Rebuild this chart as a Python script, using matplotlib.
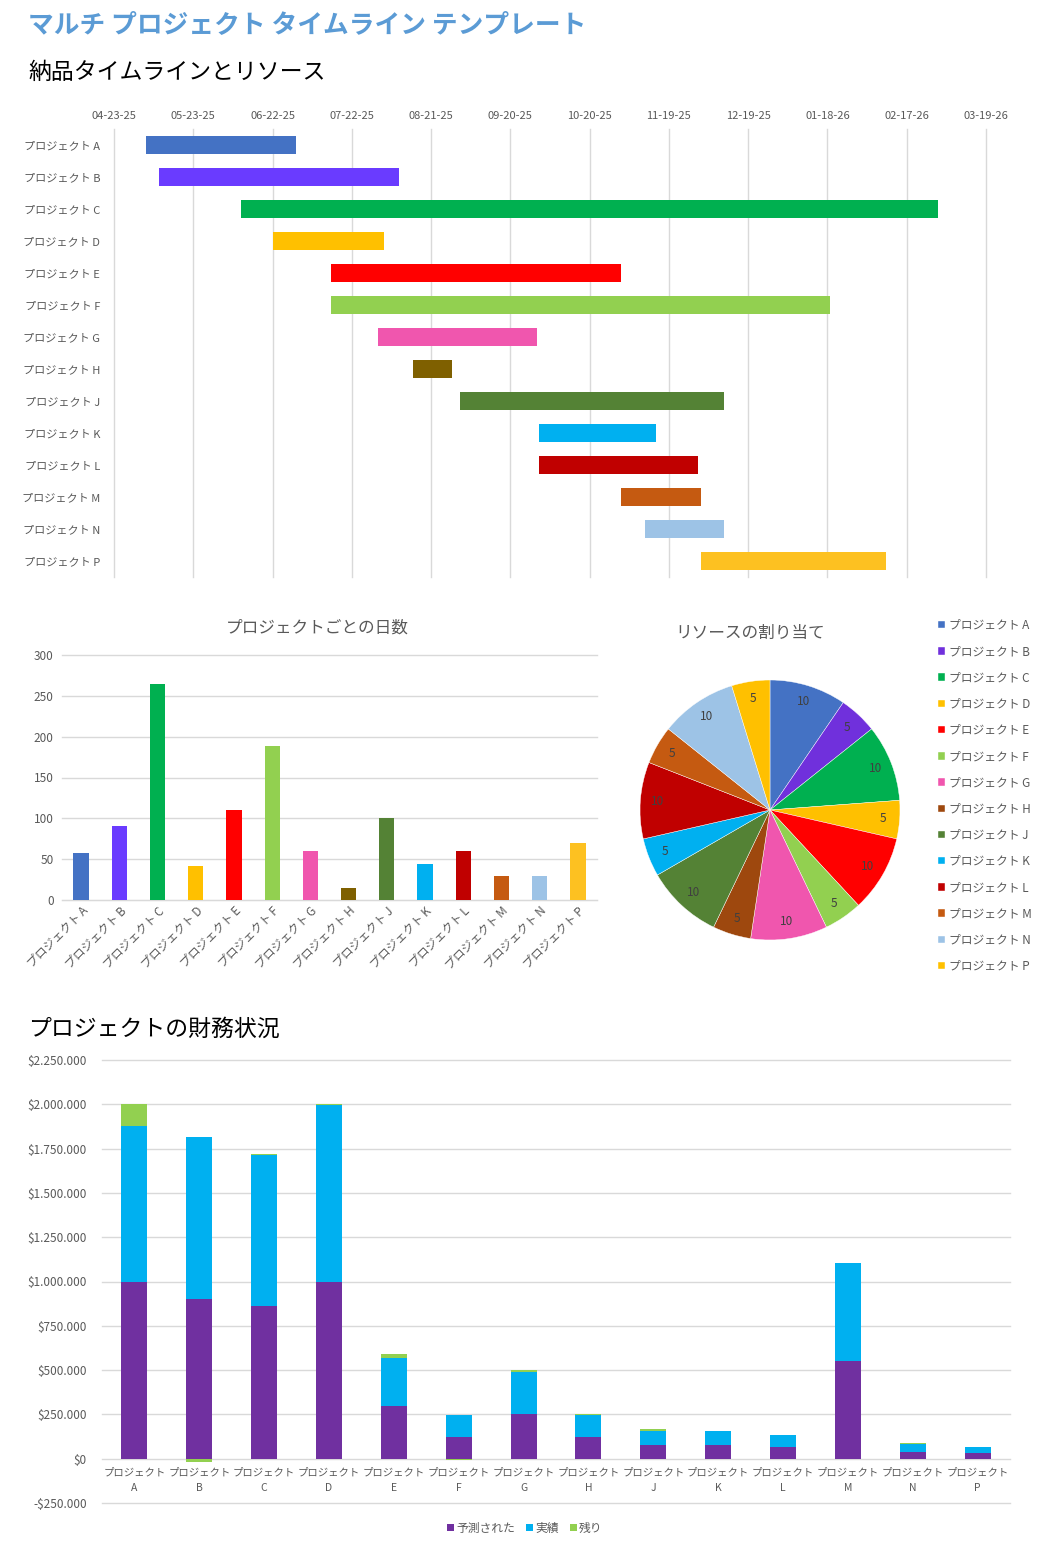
import matplotlib
matplotlib.use('Agg')
import matplotlib.pyplot as plt
import matplotlib.dates as mdates
import matplotlib.ticker as mticker
import datetime as dt

plt.rcParams['font.family'] = ['Noto Sans CJK JP', 'DejaVu Sans']

W, H = 1050, 1550

# ---------------- data ----------------
projects = ['プロジェクト A', 'プロジェクト B', 'プロジェクト C', 'プロジェクト D', 'プロジェクト E',
            'プロジェクト F', 'プロジェクト G', 'プロジェクト H', 'プロジェクト J', 'プロジェクト K',
            'プロジェクト L', 'プロジェクト M', 'プロジェクト N', 'プロジェクト P']
fin_labels = ['プロジェクト\nA', 'プロジェクト\nB', 'プロジェクト\nC', 'プロジェクト\nD', 'プロジェクト\nE',
              'プロジェクト\nF', 'プロジェクト\nG', 'プロジェクト\nH', 'プロジェクト\nJ', 'プロジェクト\nK',
              'プロジェクト\nL', 'プロジェクト\nM', 'プロジェクト\nN', 'プロジェクト\nP']
start_dates = ['2025-05-05', '2025-05-10', '2025-06-10', '2025-06-22', '2025-07-14',
               '2025-07-14', '2025-08-01', '2025-08-14', '2025-09-01', '2025-10-01',
               '2025-10-01', '2025-11-01', '2025-11-10', '2025-12-01']
durations = [57, 91, 264, 42, 110, 189, 60, 15, 100, 44, 60, 30, 30, 70]
resources = [10, 5, 10, 5, 10, 5, 10, 5, 10, 5, 10, 5, 10, 5]
forecast = [1000000, 900000, 860000, 1000000, 295000, 120000, 250000, 125000,
            80000, 75000, 65000, 550000, 40000, 30000]
actual = [880000, 918000, 854000, 995000, 275000, 128000, 242000, 120000,
          79000, 79000, 67000, 553000, 45000, 34000]
remaining = [120000, -18000, 6000, 5000, 20000, -8000, 8000, 5000,
             6000, 0, 0, -3000, 5000, -4000]
fin_series = ['予測された', '実績', '残り']

axis_start = '2025-04-23'
axis_end = '2026-03-19'
tick_step_days = 30

bar_colors = ['#4472C4', '#6A3BFF', '#00B050', '#FFC000', '#FF0000', '#92D050', '#F056AE',
              '#7F6000', '#548235', '#00B0F0', '#C00000', '#C55A11', '#9DC3E6', '#FDC121']
pie_colors = ['#4472C4', '#7030DC', '#00B050', '#FFC000', '#FF0000', '#92D050', '#F056AE',
              '#9E480E', '#548235', '#00B0F0', '#C00000', '#C55A11', '#9DC3E6', '#FFC000']
fin_colors = ['#7030A0', '#00B0F0', '#92D050']

GRAY = '#595959'
GRID = '#D9D9D9'

fig = plt.figure(figsize=(W / 100, H / 100), dpi=100)


def ax_px(l, t, r, b):
    return fig.add_axes([l / W, 1 - b / H, (r - l) / W, (b - t) / H])


# ---------------- titles ----------------
fig.text(28 / W, 1 - 25 / H, 'マルチ プロジェクト タイムライン テンプレート', color='#5B9BD5',
         fontsize=18.5, fontweight='bold', va='center', ha='left')
fig.text(28 / W, 1 - 72 / H, '納品タイムラインとリソース', color='black',
         fontsize=16.5, va='center', ha='left')
fig.text(28 / W, 1 - 1029 / H, 'プロジェクトの財務状況', color='black',
         fontsize=16.5, va='center', ha='left')

# ---------------- gantt ----------------
axg = ax_px(114, 129, 986, 577)
starts = [mdates.date2num(dt.date.fromisoformat(s)) for s in start_dates]
ypos = list(range(len(projects)))
axg.barh(ypos, durations, left=starts, height=0.56, color=bar_colors, zorder=3)
x0 = mdates.date2num(dt.date.fromisoformat(axis_start))
x1 = mdates.date2num(dt.date.fromisoformat(axis_end))
axg.set_xlim(x0, x1)
ticks = []
t = x0
while t <= x1 + 0.5:
    ticks.append(t)
    t += tick_step_days
axg.set_xticks(ticks)
axg.xaxis.set_major_formatter(mdates.DateFormatter('%m-%d-%y'))
axg.xaxis.tick_top()
axg.set_ylim(len(projects) - 0.5, -0.5)
axg.set_yticks(ypos)
axg.set_yticklabels(projects)
axg.tick_params(axis='both', length=0, labelsize=8, labelcolor=GRAY)
axg.tick_params(axis='x', pad=6)
axg.tick_params(axis='y', pad=10)
axg.grid(axis='x', color=GRID, linewidth=1, zorder=0)
for ln in axg.get_xgridlines():
    ln.set_clip_on(False)
for s in axg.spines.values():
    s.set_visible(False)

# ---------------- days per project ----------------
axb = ax_px(62, 655, 597, 900)
axb.bar(projects, durations, width=0.4, color=bar_colors, zorder=3)
axb.set_ylim(0, 300)
axb.set_yticks([0, 50, 100, 150, 200, 250, 300])
axb.set_xlim(-0.5, len(projects) - 0.5)
axb.grid(axis='y', color=GRID, linewidth=1, zorder=0)
for ln in axb.get_ygridlines():
    ln.set_clip_on(False)
axb.tick_params(axis='both', length=0, labelsize=8.5, labelcolor=GRAY)
axb.tick_params(axis='y', pad=6)
axb.tick_params(axis='x', pad=3)
for lab in axb.get_xticklabels():
    lab.set_rotation(45)
    lab.set_ha('right')
    lab.set_rotation_mode('anchor')
for s in axb.spines.values():
    s.set_visible(False)
axb.spines['bottom'].set_visible(True)
axb.spines['bottom'].set_color(GRID)
fig.text(317 / W, 1 - 628 / H, 'プロジェクトごとの日数', color=GRAY, fontsize=12,
         ha='center', va='center')

# ---------------- pie ----------------
axp = ax_px(640, 680, 900, 940)
total = sum(resources)
wedges, _, autotexts = axp.pie(resources, colors=pie_colors, startangle=90, counterclock=False,
                               autopct=lambda p: f'{p * total / 100:.0f}', pctdistance=0.87,
                               wedgeprops=dict(edgecolor='white', linewidth=0.3),
                               textprops=dict(fontsize=8.5, color='#404040'))
axp.set_xlim(-1, 1)
axp.set_ylim(-1, 1)
axp.set_aspect('equal')
fig.text(750 / W, 1 - 633 / H, 'リソースの割り当て', color=GRAY, fontsize=12,
         ha='center', va='center')
leg = fig.legend(wedges, projects, loc='upper left', bbox_to_anchor=(932 / W, 1 - 613 / H),
                 frameon=False, fontsize=8.5, labelspacing=1.12, handlelength=0.6,
                 handleheight=0.6, handletextpad=0.3, borderpad=0)
for txt in leg.get_texts():
    txt.set_color(GRAY)

# ---------------- financials ----------------
axf = ax_px(102, 1060, 1010, 1503)
xs = list(range(len(fin_labels)))
axf.bar(xs, forecast, width=0.4, color=fin_colors[0], zorder=3, label=fin_series[0])
axf.bar(xs, actual, width=0.4, bottom=forecast, color=fin_colors[1], zorder=3, label=fin_series[1])
rem_bottom = [f + a if r >= 0 else 0 for f, a, r in zip(forecast, actual, remaining)]
axf.bar(xs, remaining, width=0.4, bottom=rem_bottom, color=fin_colors[2], zorder=3, label=fin_series[2])
axf.set_ylim(-250000, 2250000)
axf.set_yticks(list(range(-250000, 2250001, 250000)))
axf.yaxis.set_major_formatter(mticker.FuncFormatter(
    lambda v, p: ('-' if v < 0 else '') + '$' + f'{abs(v):,.0f}'.replace(',', '.')))
axf.set_xlim(-0.5, len(fin_labels) - 0.5)
axf.set_xticks(xs)
axf.set_xticklabels(fin_labels)
axf.spines['bottom'].set_position(('data', 0))
axf.grid(axis='y', color=GRID, linewidth=1, zorder=0)
for ln in axf.get_ygridlines():
    ln.set_clip_on(False)
axf.tick_params(axis='y', length=0, labelsize=8.5, labelcolor=GRAY, pad=11)
axf.tick_params(axis='x', length=0, labelsize=7.5, labelcolor=GRAY, pad=6)
for s in axf.spines.values():
    s.set_visible(False)
legf = axf.legend(loc='center', bbox_to_anchor=(525 / W, 1 - 1528 / H),
                  bbox_transform=fig.transFigure, ncol=3, frameon=False, fontsize=8.5,
                  handlelength=0.6, handleheight=0.6, handletextpad=0.2, columnspacing=0.9)
for txt in legf.get_texts():
    txt.set_color(GRAY)

fig.canvas.draw()
for lab in axf.get_xticklabels():
    lab.set_linespacing(1.75)

fig.savefig('out.png', dpi=100)
